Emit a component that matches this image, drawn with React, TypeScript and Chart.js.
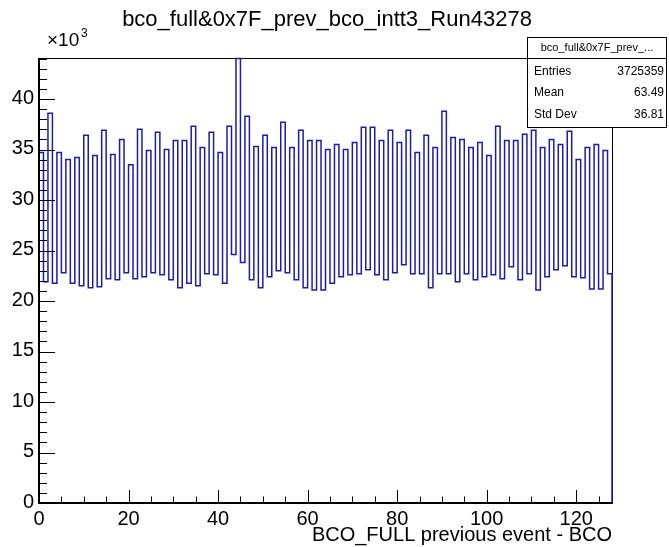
import React, { useEffect, useRef } from 'react';
import { Chart, registerables } from 'chart.js';

Chart.register(...registerables);

// Bin contents (in units of 10^3 entries), bins 0..127 of width 1
const binCounts: number[] = [
  34.7, 21.9, 38.6, 21.75, 34.7, 22.8, 34.0, 21.75, 34.2, 21.5, 36.4, 21.3, 34.4, 21.4, 36.9, 22.2,
  34.5, 22.1, 36.0, 22.8, 33.5, 22.2, 37.0, 22.4, 34.9, 22.8, 36.7, 22.6, 35.0, 22.1, 35.9, 21.3,
  35.9, 21.75, 37.3, 21.5, 35.2, 22.7, 36.7, 22.6, 34.7, 21.75, 37.3, 24.6, 44.0, 23.8, 38.3, 22.1,
  35.3, 21.3, 36.4, 22.4, 35.2, 23.0, 37.7, 22.8, 35.2, 22.1, 36.9, 21.3, 35.9, 21.1, 35.9, 21.1,
  35.0, 21.75, 35.5, 22.4, 35.0, 22.6, 35.7, 22.7, 37.2, 23.1, 37.2, 22.6, 35.9, 22.1, 36.9, 22.8,
  35.7, 23.6, 36.9, 22.7, 34.7, 22.7, 36.4, 21.3, 35.2, 22.7, 38.8, 22.7, 36.2, 21.9, 36.0, 22.7,
  35.2, 22.1, 35.7, 22.4, 34.4, 22.6, 37.3, 22.2, 35.9, 23.4, 35.9, 22.1, 36.5, 22.7, 36.9, 21.1,
  35.2, 22.4, 36.0, 23.1, 35.5, 23.5, 36.8, 22.4, 34.0, 22.3, 35.2, 21.2, 35.5, 21.2, 34.9, 22.7,
];

const xRange = [0, 128];
const yRange = [0, 44.06];
const xMajorTicks = [0, 20, 40, 60, 80, 100, 120];
const yMajorTicks = [0, 5, 10, 15, 20, 25, 30, 35, 40];
const xMinorStep = 5;
const yMinorStep = 1;

const titleText = 'bco_full&0x7F_prev_bco_intt3_Run43278';
const xAxisTitle = 'BCO_FULL previous event - BCO';
const yScaleLabel = '×10';
const yScaleExp = '3';
const statsTitle = 'bco_full&0x7F_prev_...';
const statsLabels = ['Entries', 'Mean', 'Std Dev'];
const statsValues = ['3725359', '63.49', '36.81'];

const FONT = "'Liberation Sans', Arial, Helvetica, sans-serif";
const LINE_COLOR = '#1c1ca8';

const rootStylePlugin = {
  id: 'rootStyle',
  beforeDatasetsDraw(chart: any) {
    const { ctx, chartArea: a } = chart;
    ctx.save();
    ctx.strokeStyle = '#000';
    ctx.lineWidth = 1;
    ctx.strokeRect(a.left + 0.5, a.top + 0.5, a.right - a.left, a.bottom - a.top);
    ctx.restore();
  },
  afterDatasetsDraw(chart: any) {
    const { ctx, chartArea: a, scales } = chart;
    const xs = scales.x;
    const ys = scales.y;
    ctx.save();
    ctx.strokeStyle = '#000';
    // axes lines (drawn over the histogram, as ROOT does)
    ctx.lineWidth = 2;
    ctx.beginPath();
    ctx.moveTo(a.left, a.top);
    ctx.lineTo(a.left, a.bottom);
    ctx.lineTo(a.right, a.bottom);
    ctx.stroke();
    ctx.lineWidth = 1;

    // y ticks
    ctx.beginPath();
    const yMaxTick = Math.floor(yRange[1] / yMinorStep);
    for (let i = 0; i <= yMaxTick; i++) {
      const v = i * yMinorStep;
      const y = Math.round(ys.getPixelForValue(v)) + 0.5;
      const major = yMajorTicks.includes(v);
      ctx.moveTo(a.left, y);
      ctx.lineTo(a.left + (major ? 16 : 8), y);
    }
    // x ticks
    const xMaxTick = Math.floor(xRange[1] / xMinorStep);
    for (let i = 0; i <= xMaxTick; i++) {
      const v = i * xMinorStep;
      const x = Math.round(xs.getPixelForValue(v)) + 0.5;
      const major = xMajorTicks.includes(v);
      ctx.moveTo(x, a.bottom);
      ctx.lineTo(x, a.bottom - (major ? 13 : 6.5));
    }
    ctx.stroke();

    // tick labels
    ctx.fillStyle = '#000';
    ctx.font = `20px ${FONT}`;
    ctx.textAlign = 'right';
    ctx.textBaseline = 'middle';
    yMajorTicks.forEach((v) => {
      ctx.fillText(String(v), a.left - 5, ys.getPixelForValue(v) - 1);
    });
    ctx.textAlign = 'center';
    ctx.textBaseline = 'top';
    xMajorTicks.forEach((v) => {
      ctx.fillText(String(v), xs.getPixelForValue(v), a.bottom + 6);
    });

    // x axis title
    ctx.textAlign = 'right';
    ctx.textBaseline = 'middle';
    ctx.fillText(xAxisTitle, a.right, 535);

    // exponent label
    ctx.textAlign = 'left';
    ctx.font = `19px ${FONT}`;
    ctx.fillText(yScaleLabel, 47, 41);
    ctx.font = `12px ${FONT}`;
    ctx.fillText(yScaleExp, 81, 34);

    // title
    ctx.font = `22px ${FONT}`;
    ctx.textAlign = 'center';
    ctx.fillText(titleText, 327, 20);

    // stats box
    const bx = 527.5, by = 37.5, bw = 139, bh = 90;
    ctx.fillStyle = '#fff';
    ctx.fillRect(bx, by, bw, bh);
    ctx.strokeRect(bx, by, bw, bh);
    ctx.beginPath();
    ctx.moveTo(bx, 58.5);
    ctx.lineTo(bx + bw, 58.5);
    ctx.stroke();
    ctx.fillStyle = '#000';
    ctx.font = `11px ${FONT}`;
    ctx.textAlign = 'center';
    ctx.fillText(statsTitle, bx + bw / 2, 48);
    ctx.font = `12px ${FONT}`;
    const rowY = [71.5, 93, 114.5];
    statsLabels.forEach((lab, i) => {
      ctx.textAlign = 'left';
      ctx.fillText(lab, 534, rowY[i]);
      ctx.textAlign = 'right';
      ctx.fillText(statsValues[i], 664, rowY[i]);
    });
    ctx.restore();
  },
};

export default function App() {
  const canvasRef = useRef<HTMLCanvasElement | null>(null);

  useEffect(() => {
    const canvas = canvasRef.current;
    if (!canvas) return;
    const points: { x: number; y: number }[] = [{ x: xRange[0], y: 0 }];
    binCounts.forEach((v, i) => points.push({ x: xRange[0] + i, y: v }));
    points.push({ x: xRange[1], y: binCounts[binCounts.length - 1] });
    points.push({ x: xRange[1], y: 0 });

    const chart = new Chart(canvas, {
      type: 'line',
      data: {
        datasets: [
          {
            data: points,
            borderColor: LINE_COLOR,
            borderWidth: 1.5,
            pointRadius: 0,
            fill: false,
            stepped: true,
            tension: 0,
            clip: false,
          } as any,
        ],
      },
      options: {
        animation: false,
        responsive: false,
        devicePixelRatio: 1,
        parsing: false as any,
        layout: { padding: { left: 39, right: 57, top: 58, bottom: 44 } },
        scales: {
          x: { type: 'linear', min: xRange[0], max: xRange[1], display: false },
          y: { type: 'linear', min: yRange[0], max: yRange[1], display: false },
        },
        plugins: {
          legend: { display: false },
          tooltip: { enabled: false },
          title: { display: false },
        },
      },
      plugins: [rootStylePlugin],
    });
    return () => chart.destroy();
  }, []);

  return (
    <div style={{ position: 'absolute', left: 0, top: 0, width: 669, height: 547, background: '#fff' }}>
      <canvas ref={canvasRef} width={669} height={547} style={{ display: 'block' }} />
    </div>
  );
}
